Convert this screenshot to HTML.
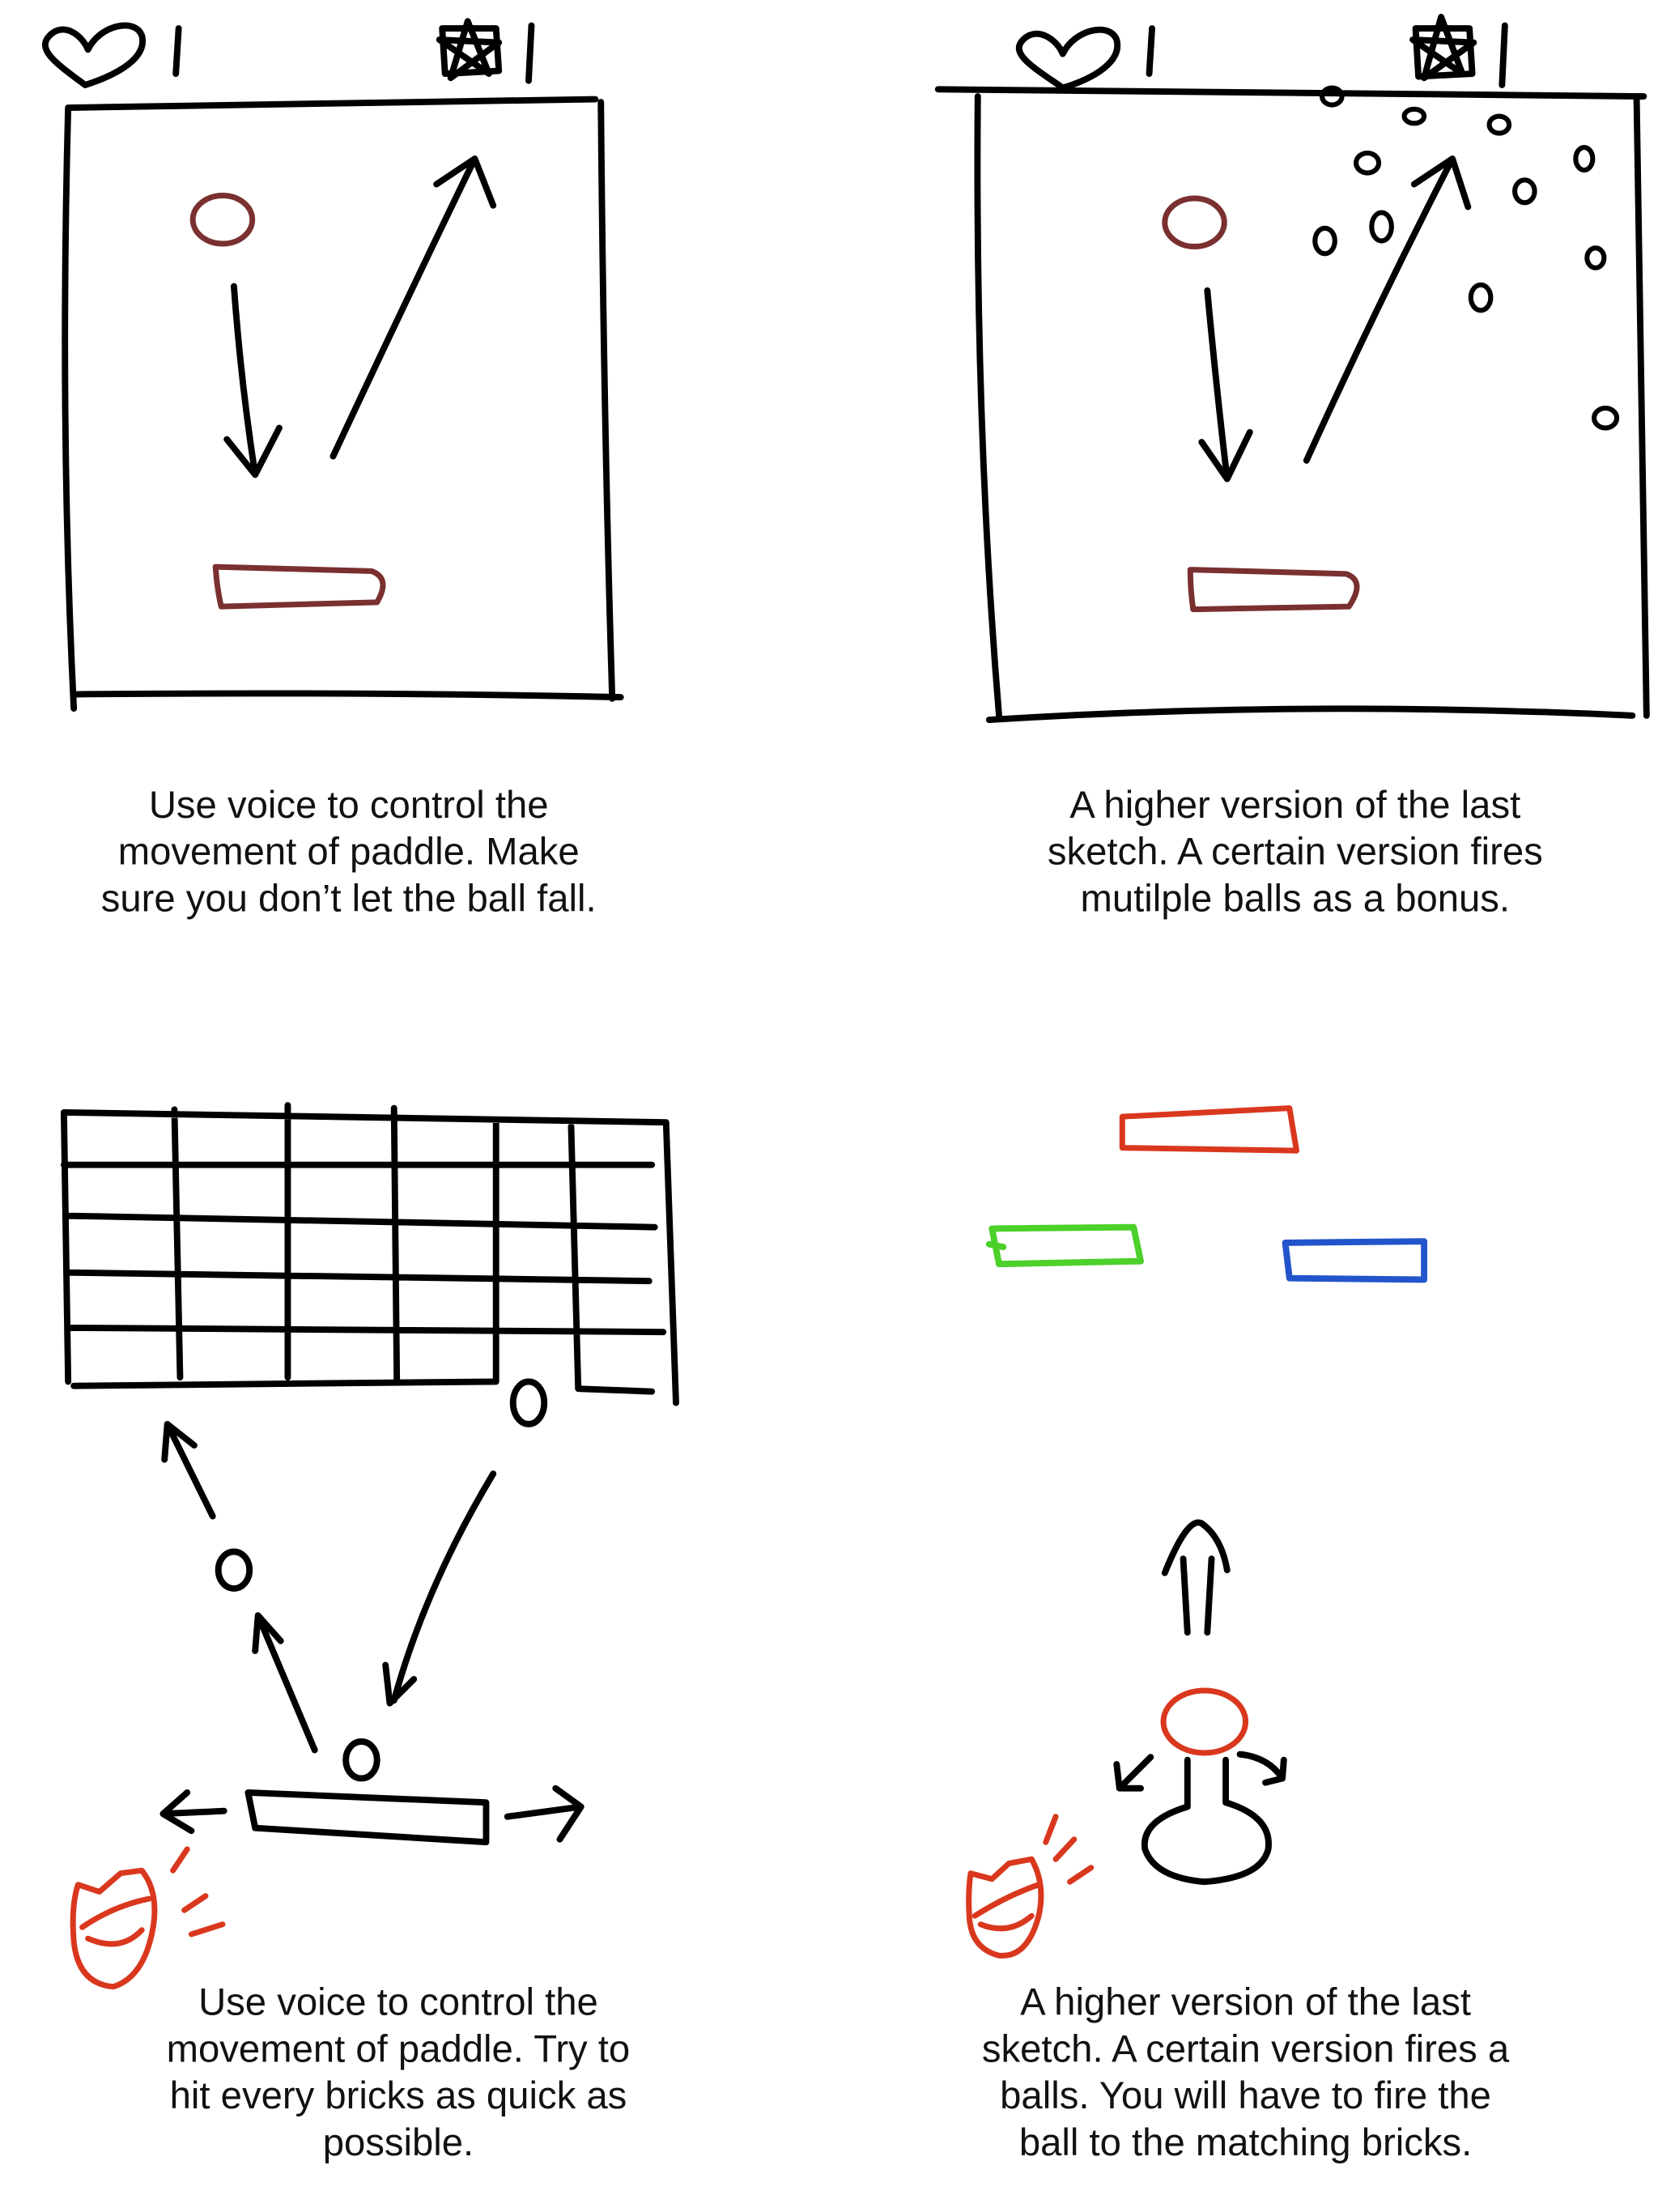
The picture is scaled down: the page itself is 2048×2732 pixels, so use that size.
<!DOCTYPE html>
<html><head><meta charset="utf-8"><style>
html,body{margin:0;padding:0;background:#fff;}
svg{display:block;}
text{font-family:"Liberation Sans",sans-serif;font-size:27px;fill:#111;text-anchor:middle;}
.k{fill:none;stroke:#000;stroke-width:4.5;stroke-linecap:round;stroke-linejoin:round;}
.r{fill:none;stroke:#7a3030;stroke-width:4;stroke-linecap:round;stroke-linejoin:round;}
.o{fill:none;stroke:#d9381e;stroke-width:4;stroke-linecap:round;stroke-linejoin:round;}
</style></head><body>
<svg width="2048" height="2732" viewBox="0 0 1170 1561" xmlns="http://www.w3.org/2000/svg">
<g>
 <path class="k" d="M60,60 C40,45 25,35 35,25 C45,15 58,25 62,35 C70,18 95,12 100,25 C104,40 85,52 60,60"/>
 <path class="k" d="M126,20 L124,52"/>
 <path class="k" d="M318,55 L330,15 L345,52 L310,28 L352,30 Z M312,20 L350,20 L352,50 L314,52 Z"/>
 <path class="k" d="M375,18 L373,57"/>
 <path class="k" d="M48,76 L420,70 M48,76 Q42,300 52,500 M424,72 Q426,300 432,493 M52,490 Q250,488 438,492"/>
 <ellipse class="r" cx="157" cy="155" rx="21" ry="17"/>
 <path class="k" d="M165,202 Q170,270 180,335 M160,310 L180,335 L197,302"/>
 <path class="k" d="M235,322 Q285,215 335,112 M308,130 L335,112 L348,145"/>
 <path class="r" d="M152,400 L262,403 Q276,408 266,425 L156,428 Q153,415 152,400"/>
 <text><tspan x="246" y="577">Use voice to control the</tspan><tspan x="246" y="610">movement of paddle. Make</tspan><tspan x="246" y="643">sure you don’t let the ball fall.</tspan></text>
</g>
<g>
 <path class="k" d="M750,62 C730,48 712,38 722,28 C732,18 746,28 750,38 C758,21 783,15 788,28 C792,43 773,55 750,62"/>
 <path class="k" d="M813,20 L811,52"/>
 <path class="k" d="M1005,55 L1017,12 L1032,52 L997,28 L1040,30 Z M999,20 L1037,20 L1039,52 L1001,54 Z"/>
 <path class="k" d="M1062,18 L1060,60"/>
 <path class="k" d="M662,63 L1160,68 M690,68 Q688,300 705,505 M1155,70 Q1158,300 1162,505 M698,508 Q920,494 1152,505"/>
 <g class="k" style="stroke-width:3.5">
  <ellipse cx="940" cy="68" rx="7" ry="6"/><ellipse cx="998" cy="82" rx="7" ry="5"/><ellipse cx="1058" cy="88" rx="7" ry="6"/>
  <ellipse cx="965" cy="115" rx="8" ry="7"/><ellipse cx="1118" cy="112" rx="6" ry="8"/><ellipse cx="1076" cy="135" rx="7" ry="8"/>
  <ellipse cx="935" cy="170" rx="7" ry="9"/><ellipse cx="975" cy="160" rx="7" ry="10"/><ellipse cx="1126" cy="182" rx="6" ry="7"/>
  <ellipse cx="1045" cy="210" rx="7" ry="9"/><ellipse cx="1133" cy="295" rx="8" ry="7"/>
 </g>
 <ellipse class="r" cx="843" cy="157" rx="21" ry="17"/>
 <path class="k" d="M852,205 Q858,270 866,338 M848,312 L866,338 L882,305"/>
 <path class="k" d="M922,325 Q972,215 1025,112 M998,130 L1025,112 L1036,146"/>
 <path class="r" d="M840,402 L950,405 Q964,410 952,428 L842,430 Q840,416 840,402"/>
 <text><tspan x="914" y="577">A higher version of the last</tspan><tspan x="914" y="610">sketch. A certain version fires</tspan><tspan x="914" y="643">mutilple balls as a bonus.</tspan></text>
</g>
<g>
 <path class="k" d="M45,785 L470,792 M45,822 L460,822 M48,858 L462,866 M48,898 L458,904 M48,937 L468,940 M52,978 L350,975 M408,980 L460,982
 M45,785 L48,975 M123,783 L127,972 M203,780 L203,972 M278,782 L280,975 M350,790 L350,975 M403,795 L408,980 M470,792 L477,990"/>
 <ellipse class="k" cx="373" cy="990" rx="11" ry="15"/>
 <ellipse class="k" cx="165" cy="1108" rx="11" ry="13"/>
 <ellipse class="k" cx="255" cy="1242" rx="11" ry="13"/>
 <path class="k" d="M150,1070 L118,1005 M116,1030 L118,1005 L137,1020"/>
 <path class="k" d="M222,1235 L182,1140 M180,1165 L182,1140 L198,1158"/>
 <path class="k" d="M348,1040 Q300,1120 278,1200 M272,1175 L275,1202 L292,1185"/>
 <path class="k" d="M175,1265 L343,1272 L343,1300 L180,1290 Z"/>
 <path class="k" d="M158,1278 L115,1280 M132,1265 L115,1280 L135,1292"/>
 <path class="k" d="M358,1282 L410,1275 M392,1262 L410,1275 L395,1298"/>
 <path class="o" d="M55,1330 L70,1335 L85,1322 L100,1320 Q112,1335 108,1360 Q102,1395 80,1402 Q55,1400 52,1370 Q50,1345 55,1330 M58,1360 Q80,1345 105,1340 M62,1368 Q85,1378 100,1362"/>
 <path class="o" d="M122,1320 L132,1305 M130,1348 L145,1338 M135,1365 L157,1358"/>
 <text><tspan x="281" y="1422">Use voice to control the</tspan><tspan x="281" y="1455">movement of paddle. Try to</tspan><tspan x="281" y="1488">hit every bricks as quick as</tspan><tspan x="281" y="1521">possible.</tspan></text>
</g>
<g>
 <path class="o" d="M792,788 L910,782 L915,812 L792,810 Z"/>
 <path class="k" style="stroke:#4cd02a" d="M700,867 L800,866 L805,890 L705,892 Z M698,878 L708,880"/>
 <path class="k" style="stroke:#2255cc" d="M907,877 L1005,876 L1005,903 L910,902 Z"/>
 <path class="k" d="M838,1152 L835,1100 M852,1152 L855,1100 M822,1110 Q838,1070 848,1075 Q862,1085 866,1108"/>
 <ellipse class="o" cx="850" cy="1215" rx="29" ry="22"/>
 <path class="k" d="M838,1242 L838,1275 Q805,1285 808,1305 Q815,1325 850,1328 Q890,1325 895,1305 Q898,1282 865,1272 L865,1242"/>
 <path class="k" d="M812,1240 L790,1262 M788,1245 L790,1262 L805,1262 M875,1238 Q895,1240 905,1255 M893,1258 L905,1255 L906,1242"/>
 <path class="o" d="M685,1322 L700,1326 L712,1315 L728,1312 Q738,1330 733,1352 Q725,1382 705,1380 Q685,1375 684,1352 Q683,1335 685,1322 M688,1352 Q710,1338 733,1330 M692,1358 Q712,1366 728,1352"/>
 <path class="o" d="M738,1300 L745,1282 M745,1312 L758,1298 M755,1328 L770,1318"/>
 <text><tspan x="879" y="1422">A higher version of the last</tspan><tspan x="879" y="1455">sketch. A certain version fires a</tspan><tspan x="879" y="1488">balls. You will have to fire the</tspan><tspan x="879" y="1521">ball to the matching bricks.</tspan></text>
</g>
</svg>
</body></html>
